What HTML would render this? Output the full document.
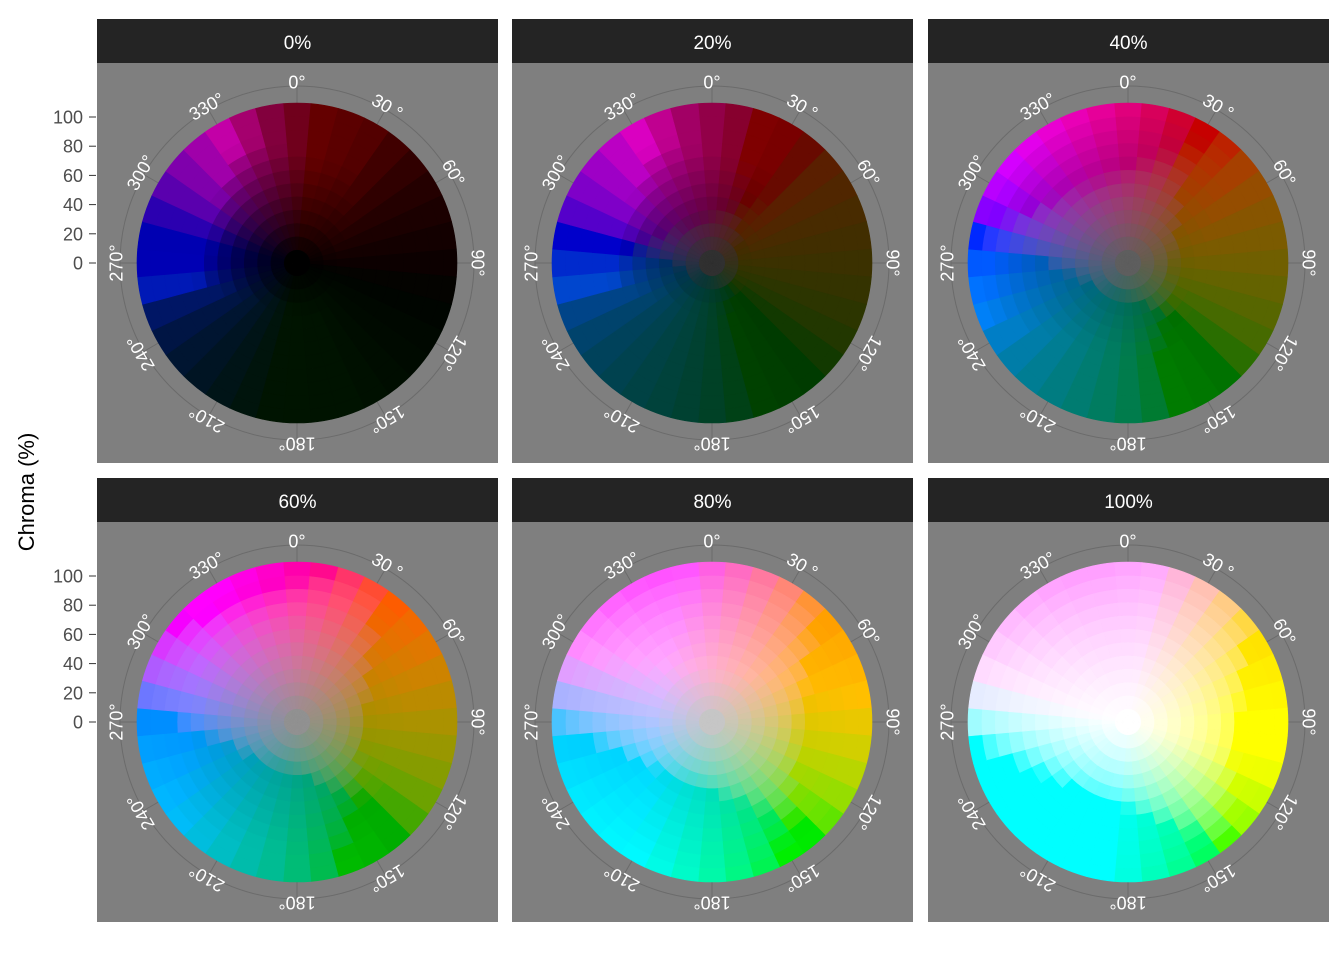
<!DOCTYPE html>
<html><head><meta charset="utf-8"><style>
body{margin:0;background:#fff;}
svg{display:block;font-family:"Liberation Sans",Arial,sans-serif;}
</style></head><body>
<svg id="chart" width="1344" height="960" viewBox="0 0 1344 960"></svg>
<script>
const lightness = [0, 20, 40, 60, 80, 100];
const facetLabels = ["0%", "20%", "40%", "60%", "80%", "100%"];
const hues = [0,10,20,30,40,50,60,70,80,90,100,110,120,130,140,150,160,170,180,190,200,210,220,230,240,250,260,270,280,290,300,310,320,330,340,350];
const chromas = [0,10,20,30,40,50,60,70,80,90,100,110];
const chromaTicks = [0,20,40,60,80,100];
const angleTicks = [0,30,60,90,120,150,180,210,240,270,300,330];
const angleLabels = ["0°","30 °","60°","90°","120°","150°","180°","210°","240°","270°","300°","330°"];

const NS="http://www.w3.org/2000/svg";
const svg=document.getElementById('chart');
function mk(tag,attrs,parent){const e=document.createElementNS(NS,tag);for(const k in attrs)e.setAttribute(k,attrs[k]);(parent||svg).appendChild(e);return e;}

const HUE_SHIFT=15, CHROMA_GAIN=1.4;
function hclRgb(L,C,H){
  C=C*CHROMA_GAIN; H=H-HUE_SHIFT;
  const Xn=95.047,Yn=100,Zn=108.883;
  const d=Xn+15*Yn+3*Zn, un=4*Xn/d, vn=9*Yn/d;
  const h=H*Math.PI/180;
  let du=C*Math.cos(h)/(13*L), dv=C*Math.sin(h)/(13*L);
  let t=1;
  if(dv<0) t=Math.min(t,(vn-0.12)/(-dv));
  if(du<0) t=Math.min(t,(un-0.03)/(-du));
  if(dv>0) t=Math.min(t,(0.6-vn)/dv);
  if(du>0) t=Math.min(t,(0.6-un)/du);
  du*=t; dv*=t;
  const Y = L>8 ? Yn*Math.pow((L+16)/116,3) : Yn*L/903.3;
  const up=du+un, vp=dv+vn;
  const X=9*Y*up/(4*vp), Z=-X/3-5*Y+3*Y/vp;
  const x=X/100,y=Y/100,z=Z/100;
  let r= 3.2404542*x-1.5371385*y-0.4985314*z;
  let g=-0.9692660*x+1.8760108*y+0.0415560*z;
  let b= 0.0556434*x-0.2040259*y+1.0572252*z;
  const gam=c=>{c=Math.min(1,Math.max(0,c));return c<=0.0031308?12.92*c:1.055*Math.pow(c,1/2.4)-0.055;};
  return [gam(r),gam(g),gam(b)];
}
function cellColor(L,C,H){
  let rgb;
  if(L<1){
    const c=hclRgb(20,C,H), gr=hclRgb(20,0,0)[0];
    rgb=c.map(v=>Math.max(0,v-gr)*1.15);
  } else rgb=hclRgb(L,C,H);
  return '#'+rgb.map(v=>Math.round(Math.min(1,Math.max(0,v))*255).toString(16).padStart(2,'0')).join('');
}

const panelW=401, panelH=400;
const panelX=[97,512,928], stripY=[19,478];
const RMAX=160;
function rScale(c){return c*RMAX/120;}
function yAxis(c){return c*1.46;}
function pt(cx,cy,r,a){const t=a*Math.PI/180;return [cx+r*Math.sin(t),cy-r*Math.cos(t)];}

const yt=mk('text',{x:34,y:492,'font-size':22,fill:'#000','text-anchor':'middle',transform:'rotate(-90 34 492)'});
yt.textContent='Chroma (%)';



lightness.forEach((Lp,i)=>{
  const col=i%3,row=Math.floor(i/3);
  const px=panelX[col], sy=stripY[row], py=sy+44;
  const g=mk('g',{});
  
  
  const strip=mk('rect',{x:px,y:sy,width:panelW,height:44,fill:'#242424'},g);
  
  
  const st=mk('text',{x:px+panelW/2,y:sy+30,'font-size':19,fill:'#fff','text-anchor':'middle'},g);
  st.textContent=facetLabels[i];
  
  
  const bg=mk('rect',{x:px,y:py,width:panelW,height:panelH,fill:'#7f7f7f'},g);
  
  
  const cx=px+200, cy=py+200;
  const gc=mk('circle',{cx:cx,cy:cy,r:177,fill:'none',stroke:'#6b6b6b','stroke-width':1},g);
  
  
  angleTicks.forEach(a=>{
    const p1=pt(cx,cy,150,a),p2=pt(cx,cy,177,a);
    const l=mk('line',{x1:p1[0],y1:p1[1],x2:p2[0],y2:p2[1],stroke:'#6b6b6b','stroke-width':1},g);
    
    
  });
  hues.forEach(h=>{
    chromas.forEach(c=>{
      const r0=rScale(c), r1=rScale(c+10), a0=h-5, a1=h+5;
      const fill=cellColor(Lp,c,h);
      let d;
      if(r0<=0.01){
        const q1=pt(cx,cy,r1,a0),q2=pt(cx,cy,r1,a1);
        d=`M${cx},${cy}L${q1[0]},${q1[1]}A${r1},${r1} 0 0 1 ${q2[0]},${q2[1]}Z`;
      } else {
        const o1=pt(cx,cy,r1,a0),o2=pt(cx,cy,r1,a1),n2=pt(cx,cy,r0,a1),n1=pt(cx,cy,r0,a0);
        d=`M${o1[0]},${o1[1]}A${r1},${r1} 0 0 1 ${o2[0]},${o2[1]}L${n2[0]},${n2[1]}A${r0},${r0} 0 0 0 ${n1[0]},${n1[1]}Z`;
      }
      const p=mk('path',{d:d,fill:fill,stroke:fill,'stroke-width':0.6},g);
      
      
    });
  });
  angleTicks.forEach((a,k)=>{
    const p=pt(cx,cy,181,a);
    const t=mk('text',{x:p[0],y:p[1]+6.5,'font-size':18,fill:'#fff','text-anchor':'middle',transform:`rotate(${a} ${p[0]} ${p[1]})`},g);
    t.textContent=angleLabels[k];
    
    
  });
  if(col===0){
    chromaTicks.forEach(v=>{
      const y=cy-yAxis(v);
      const tk=mk('line',{x1:89,y1:y,x2:96,y2:y,stroke:'#333','stroke-width':1},g);
      
      
      const tl=mk('text',{x:83,y:y+6.5,'font-size':18,fill:'#4d4d4d','text-anchor':'end'},g);
      tl.textContent=v;
      
      
    });
  }
});
</script>
</body></html>
